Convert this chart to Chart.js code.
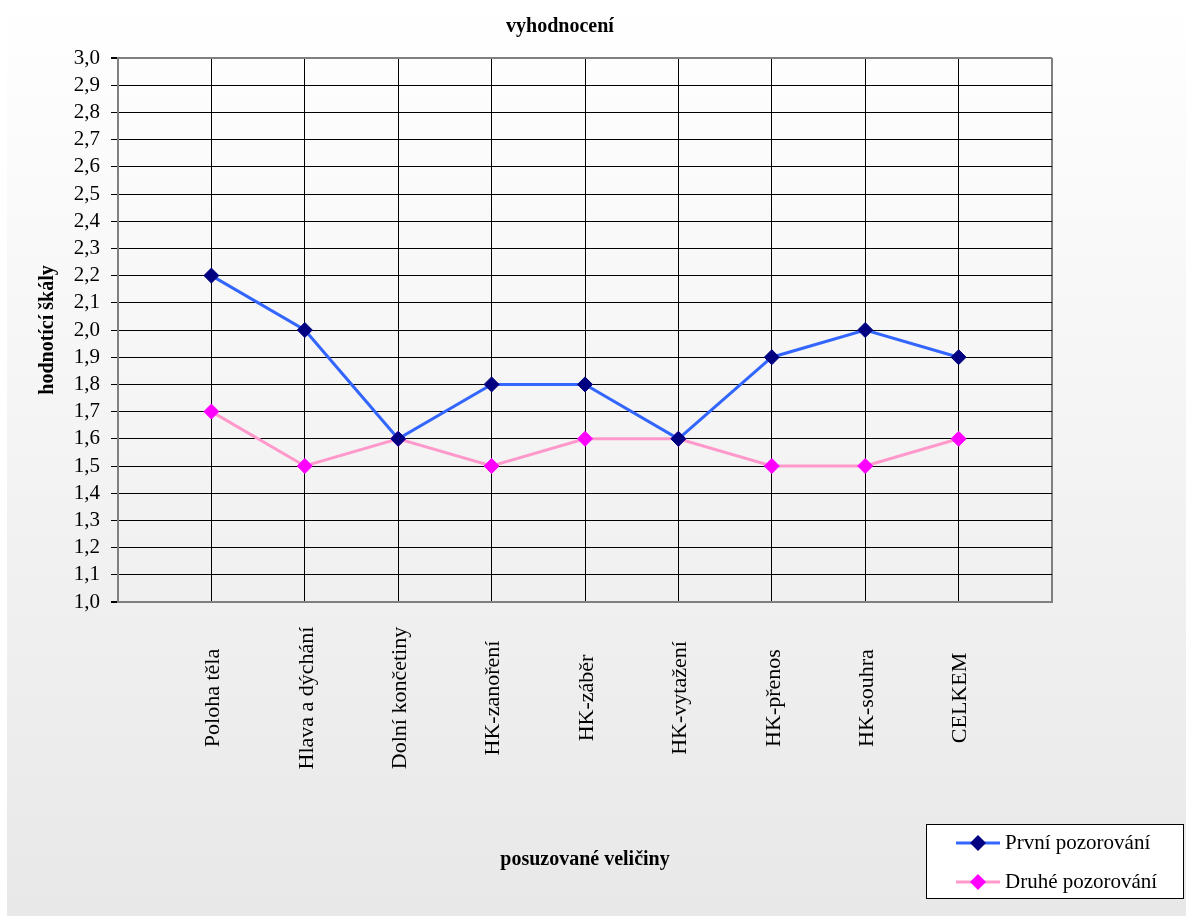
<!DOCTYPE html>
<html>
<head>
<meta charset="utf-8">
<script src="https://cdn.jsdelivr.net/npm/chart.js@4/dist/chart.umd.min.js"></script>
<style>
  html, body { margin: 0; padding: 0; background: #ffffff; }
  #wrap { width: 1186px; height: 916px; position: relative; }
</style>
</head>
<body>
<div id="wrap"><canvas id="c" width="1186" height="916"></canvas></div>
<script>
// ---- data ----
const categories = ['Poloha těla', 'Hlava a dýchání', 'Dolní končetiny', 'HK-zanoření', 'HK-záběr', 'HK-vytažení', 'HK-přenos', 'HK-souhra', 'CELKEM'];
const prvniPozorovani = [2.2, 2.0, 1.6, 1.8, 1.8, 1.6, 1.9, 2.0, 1.9];
const druhePozorovani = [1.7, 1.5, 1.6, 1.5, 1.6, 1.6, 1.5, 1.5, 1.6];
const seriesNames = ['První pozorování', 'Druhé pozorování'];
const chartTitle = 'vyhodnocení';
const xTitle = 'posuzované veličiny';
const yTitle = 'hodnotící škály';
const yMin = 1.0, yMax = 3.0, yStep = 0.1;

const FONT = "'Liberation Serif', 'Times New Roman', serif";

const toPoints = arr => arr.map((v, i) => ({ x: i + 1, y: v }));

const bgPlugin = {
  id: 'bg',
  beforeDraw(chart) {
    const ctx = chart.ctx;
    const g = ctx.createLinearGradient(0, 0, 0, chart.height);
    g.addColorStop(0, '#ffffff');
    g.addColorStop(1, '#e8e8e8');
    ctx.save();
    ctx.fillStyle = '#ffffff';
    ctx.fillRect(0, 0, chart.width, chart.height);
    ctx.fillStyle = g;
    ctx.fillRect(7, 0, chart.width - 7, chart.height);
    ctx.restore();
  }
};

const labelsPlugin = {
  id: 'catLabels',
  afterDraw(chart) {
    const ctx = chart.ctx;
    const xs = chart.scales.x;
    ctx.save();
    ctx.fillStyle = '#000';
    ctx.font = '22px ' + FONT;
    ctx.textAlign = 'center';
    ctx.textBaseline = 'middle';
    categories.forEach((c, i) => {
      const px = xs.getPixelForValue(i + 1);
      ctx.save();
      ctx.translate(px + 2, 698);
      ctx.rotate(-Math.PI / 2);
      ctx.fillText(c, 0, 0);
      ctx.restore();
    });
    ctx.restore();
  }
};

const legendPlugin = {
  id: 'boxLegend',
  afterDraw(chart) {
    const ctx = chart.ctx;
    ctx.save();
    ctx.fillStyle = '#ffffff';
    ctx.fillRect(926.5, 824.5, 257, 74);
    ctx.strokeStyle = '#000';
    ctx.lineWidth = 1;
    ctx.strokeRect(926.5, 824.5, 257, 74);
    const rows = [843, 882];
    chart.data.datasets.forEach((ds, i) => {
      const y = rows[i];
      ctx.strokeStyle = ds.borderColor;
      ctx.lineWidth = 3;
      ctx.beginPath();
      ctx.moveTo(956, y);
      ctx.lineTo(1000, y);
      ctx.stroke();
      const r = 8;
      ctx.fillStyle = ds.pointBackgroundColor;
      ctx.beginPath();
      ctx.moveTo(978 - r, y);
      ctx.lineTo(978, y - r);
      ctx.lineTo(978 + r, y);
      ctx.lineTo(978, y + r);
      ctx.closePath();
      ctx.fill();
      ctx.fillStyle = '#000';
      ctx.font = '21px ' + FONT;
      ctx.textAlign = 'left';
      ctx.textBaseline = 'middle';
      ctx.fillText(ds.label, 1005, y);
    });
    ctx.restore();
  }
};

const borderColorFn = (lo, hi) => ctx => {
  const v = ctx.tick ? ctx.tick.value : null;
  if (v !== null && (Math.abs(v - lo) < 1e-6 || Math.abs(v - hi) < 1e-6)) return '#808080';
  return '#000000';
};
const borderWidthFn = (lo, hi) => ctx => {
  const v = ctx.tick ? ctx.tick.value : null;
  if (v !== null && (Math.abs(v - lo) < 1e-6 || Math.abs(v - hi) < 1e-6)) return 2;
  return 1;
};

new Chart(document.getElementById('c'), {
  type: 'line',
  data: {
    datasets: [
      {
        label: seriesNames[0],
        data: toPoints(prvniPozorovani),
        borderColor: '#3366ff',
        borderWidth: 3,
        pointStyle: 'rectRot',
        pointRadius: 7.5,
        pointBackgroundColor: '#000080',
        pointBorderColor: '#000080',
        pointBorderWidth: 1,
        tension: 0
      },
      {
        label: seriesNames[1],
        data: toPoints(druhePozorovani),
        borderColor: '#ff99cc',
        borderWidth: 3,
        pointStyle: 'rectRot',
        pointRadius: 7.5,
        pointBackgroundColor: '#ff00ff',
        pointBorderColor: '#ff00ff',
        pointBorderWidth: 1,
        tension: 0
      }
    ]
  },
  options: {
    responsive: false,
    animation: false,
    events: [],
    layout: { padding: { left: 68, right: 134, top: 0, bottom: 0 } },
    plugins: {
      legend: { display: false },
      tooltip: { enabled: false },
      title: {
        display: true,
        text: chartTitle,
        color: '#000',
        font: { family: FONT, size: 20, weight: 'bold' },
        padding: { top: 15, bottom: 19 }
      }
    },
    scales: {
      x: {
        type: 'linear',
        min: 0,
        max: categories.length + 1,
        afterFit: s => { s.height = 314; },
        ticks: { display: false, stepSize: 1 },
        grid: {
          color: borderColorFn(0, categories.length + 1),
          lineWidth: borderWidthFn(0, categories.length + 1),
          drawTicks: false
        },
        border: { color: '#808080', width: 2 },
        title: {
          display: true,
          text: xTitle,
          color: '#000',
          font: { family: FONT, size: 20, weight: 'bold' },
          padding: { top: 0, bottom: 44 }
        }
      },
      y: {
        type: 'linear',
        min: yMin,
        max: yMax,
        afterFit: s => { s.width = 50; },
        ticks: {
          stepSize: yStep,
          autoSkip: false,
          padding: 11,
          color: '#000',
          font: { family: FONT, size: 21 },
          callback: v => Number(v).toFixed(1).replace('.', ',')
        },
        grid: {
          color: borderColorFn(yMin, yMax),
          lineWidth: borderWidthFn(yMin, yMax),
          tickLength: 7,
          tickColor: '#000'
        },
        border: { color: '#808080', width: 2 },
        title: {
          display: true,
          text: yTitle,
          color: '#000',
          font: { family: FONT, size: 20, weight: 'bold' },
          padding: { top: -32, bottom: 0 }
        }
      }
    }
  },
  plugins: [bgPlugin, labelsPlugin, legendPlugin]
});
</script>
</body>
</html>
